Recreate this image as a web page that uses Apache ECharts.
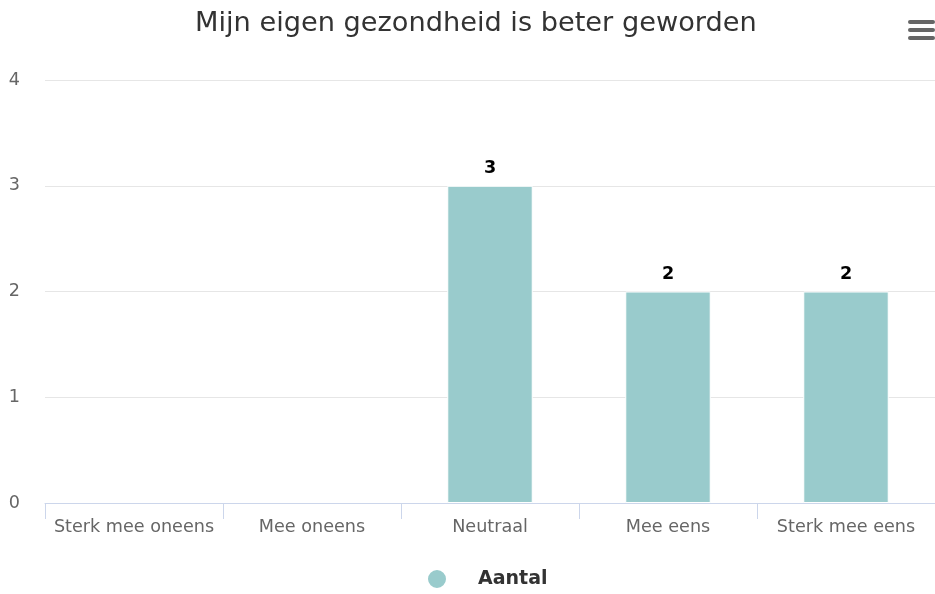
<!DOCTYPE html>
<html><head><meta charset="utf-8">
<script src="https://cdn.jsdelivr.net/npm/echarts@6/dist/echarts.min.js"></script>
<style>html,body{margin:0;padding:0;background:#fff}#c{width:935px;height:594px}</style>
</head><body><div id="c"></div>
<script>
const titleText = 'Mijn eigen gezondheid is beter geworden';
const categories = ['Sterk mee oneens', 'Mee oneens', 'Neutraal', 'Mee eens', 'Sterk mee eens'];
const seriesName = 'Aantal';
const values = [0, 0, 3, 2, 2];

const chart = echarts.init(document.getElementById('c'), null, {renderer: 'canvas'});
const font = '"DejaVu Sans", Verdana, sans-serif';
chart.setOption({
  animation: false,
  textStyle: {fontFamily: font},
  title: {
    text: titleText, left: 190, top: 5,
    textStyle: {fontFamily: font, fontSize: 27.2, fontWeight: 'normal', color: '#333333'}
  },
  legend: {
    top: 563, left: 421,
    icon: 'circle', itemWidth: 20, itemHeight: 20, itemGap: 20,
    textStyle: {fontFamily: font, fontSize: 19, fontWeight: 'bold', color: '#333333', padding: [0, 0, 0, 26]},
    data: [seriesName]
  },
  grid: {left: 45, right: 0, top: 80, bottom: 91, containLabel: false},
  xAxis: {
    type: 'category', data: categories, z: 5,
    axisLine: {lineStyle: {color: '#ccd6eb', width: 1}},
    axisTick: {show: true, length: 16, alignWithLabel: false, lineStyle: {color: '#ccd6eb'}},
    axisLabel: {fontFamily: font, fontSize: 17.6, color: '#666666', margin: 15, interval: 0}
  },
  yAxis: {
    type: 'value', min: 0, max: 4, interval: 1, z: 1,
    axisLine: {show: false}, axisTick: {show: false},
    splitLine: {lineStyle: {color: '#e6e6e6', width: 1}},
    axisLabel: {fontFamily: font, fontSize: 17.6, color: '#666666', margin: 25}
  },
  series: [{
    name: seriesName, type: 'bar', barWidth: '48%',
    data: values.map(v => v > 0 ? v : {value: v, itemStyle: {borderWidth: 0, opacity: 0}}),
    itemStyle: {color: '#99cbcc', borderColor: '#ffffff', borderWidth: 1},
    label: {
      show: true, position: 'top', distance: 8,
      fontFamily: font, fontSize: 17.6, fontWeight: 'bold', color: '#000000',
      formatter: p => p.value > 0 ? String(p.value) : ''
    }
  }],
  graphic: [
    {type: 'rect', shape: {x: 908, y: 20, width: 27, height: 4, r: 2}, style: {fill: '#666666'}},
    {type: 'rect', shape: {x: 908, y: 28, width: 27, height: 4, r: 2}, style: {fill: '#666666'}},
    {type: 'rect', shape: {x: 908, y: 36, width: 27, height: 4, r: 2}, style: {fill: '#666666'}}
  ]
});
</script></body></html>
